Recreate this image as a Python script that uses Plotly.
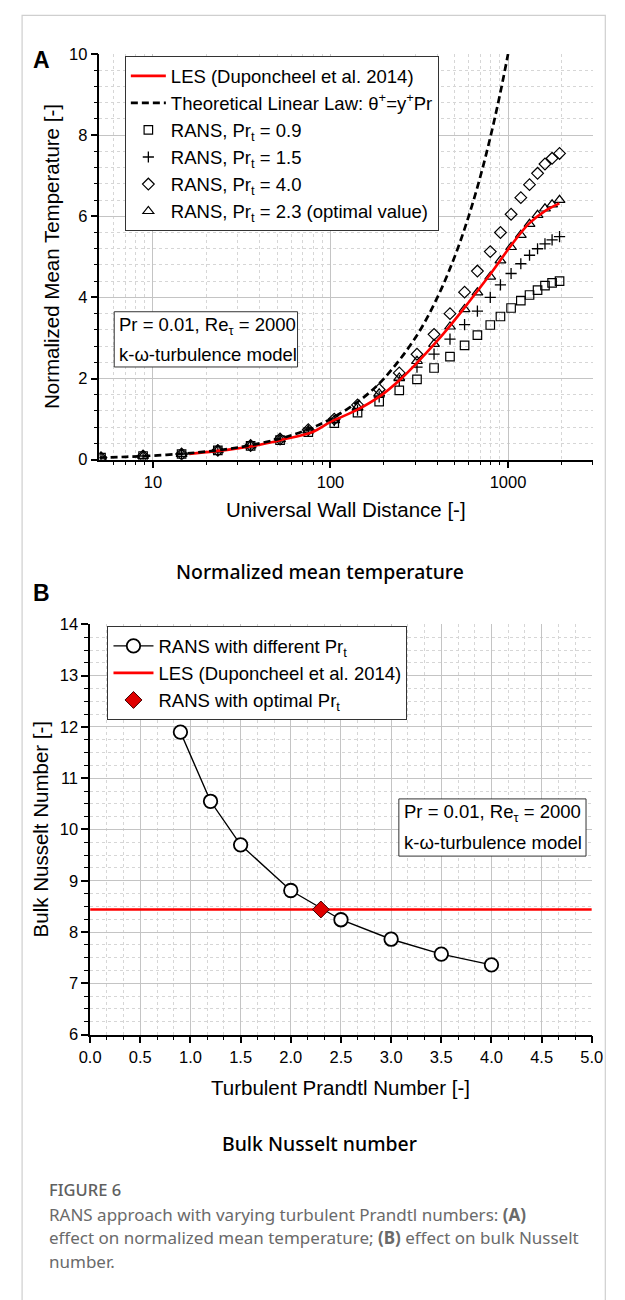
import math
import plotly.graph_objects as go

W, H = 625, 1300

# ---------------- Panel A data ----------------
yplus_rans = [5.1, 8.8, 14.5, 23.2, 35.5, 52, 75, 105, 142, 188, 244, 307, 383,
              471, 569, 672, 794, 906, 1040, 1180, 1321, 1466, 1614, 1770, 1950]
theta_prt09 = [0.05, 0.09, 0.14, 0.23, 0.34, 0.48, 0.68, 0.90, 1.16, 1.43, 1.71, 1.98, 2.26,
               2.54, 2.82, 3.07, 3.32, 3.53, 3.74, 3.92, 4.06, 4.18, 4.29, 4.36, 4.40]
theta_prt15 = [0.05, 0.09, 0.14, 0.23, 0.35, 0.50, 0.71, 0.96, 1.22, 1.55, 1.95, 2.28, 2.60,
               2.97, 3.33, 3.66, 4.00, 4.31, 4.59, 4.83, 5.04, 5.20, 5.32, 5.42, 5.50]
theta_prt40 = [0.05, 0.09, 0.14, 0.23, 0.35, 0.51, 0.74, 1.00, 1.35, 1.73, 2.14, 2.60, 3.09,
               3.60, 4.13, 4.65, 5.13, 5.60, 6.05, 6.46, 6.78, 7.06, 7.29, 7.43, 7.55]
theta_prt23 = [0.05, 0.09, 0.14, 0.23, 0.35, 0.50, 0.72, 0.97, 1.29, 1.63, 2.02, 2.43, 2.85,
               3.28, 3.71, 4.12, 4.51, 4.91, 5.24, 5.54, 5.81, 6.03, 6.19, 6.29, 6.40]
yplus_les = [16, 28, 38, 52, 80, 100, 140, 192, 249, 309, 383, 461, 593, 778, 1040, 1310, 1611, 1946]
theta_les = [0.14, 0.26, 0.35, 0.48, 0.69, 0.93, 1.22, 1.58, 1.99, 2.40, 2.84, 3.25, 3.85, 4.52,
             5.28, 5.82, 6.13, 6.32]
yplus_lin = [5, 7, 10, 15, 20, 30, 50, 70, 100, 150, 200, 300, 400, 500, 600, 700, 800, 900, 1000]
theta_lin = [0.05, 0.07, 0.1, 0.15, 0.2, 0.3, 0.5, 0.7, 1.0, 1.5, 2.0, 3.0, 4.0, 5.0, 6.0, 7.0,
             8.0, 9.0, 10.0]
xA_range = [5, 3000]
xA_ticks = [10, 100, 1000]
xA_labels = ["10", "100", "1000"]

# ---------------- Panel B data ----------------
prt = [0.9, 1.2, 1.5, 2.0, 2.5, 3.0, 3.5, 4.0]
nu_rans = [11.9, 10.55, 9.7, 8.81, 8.24, 7.86, 7.57, 7.36]
prt_opt = [2.3]
nu_opt = [8.44]
nu_les = 8.44
xB_range = [0, 5]
yB_range = [6, 14]

FONT = "Liberation Sans, Arial, sans-serif"
CAP = "Noto Sans, Open Sans, sans-serif"


def px(x):
    return x / W


def py(y):
    return 1 - y / H


fig = go.Figure()

# ---- Panel A traces ----
fig.add_trace(go.Scatter(x=yplus_rans, y=theta_prt09, mode="markers", name="RANS, Pr<sub>t</sub> = 0.9",
                         marker=dict(symbol="square-open", size=8.5, color="black", line=dict(width=1.2)),
                         xaxis="x", yaxis="y", legendrank=3, legendgroup="a3"))
fig.add_trace(go.Scatter(x=yplus_rans, y=theta_prt15, mode="markers", name="RANS, Pr<sub>t</sub> = 1.5",
                         marker=dict(symbol="cross-thin-open", size=8, color="black", line=dict(width=1.3, color="black")),
                         xaxis="x", yaxis="y", legendrank=4, legendgroup="a4"))
fig.add_trace(go.Scatter(x=yplus_rans, y=theta_prt40, mode="markers", name="RANS, Pr<sub>t</sub> = 4.0",
                         marker=dict(symbol="diamond-open", size=9, color="black", line=dict(width=1.2)),
                         xaxis="x", yaxis="y", legendrank=5, legendgroup="a5"))
fig.add_trace(go.Scatter(x=yplus_rans, y=theta_prt23, mode="markers",
                         name="RANS, Pr<sub>t</sub> = 2.3 (optimal value)",
                         marker=dict(symbol="triangle-up-open", size=9.5, color="black", line=dict(width=1.2)),
                         xaxis="x", yaxis="y", legendrank=6, legendgroup="a6"))
fig.add_trace(go.Scatter(x=yplus_les, y=theta_les, mode="lines", name="LES (Duponcheel et al. 2014)",
                         line=dict(color="#ff0000", width=2.6, shape="spline"),
                         xaxis="x", yaxis="y", legendrank=1, legendgroup="a1"))
fig.add_trace(go.Scatter(x=yplus_lin, y=theta_lin, mode="lines",
                         name="Theoretical Linear Law: θ<sup>+</sup>=y<sup>+</sup>Pr",
                         line=dict(color="black", width=2.7, dash="7px,4px", shape="spline"),
                         xaxis="x", yaxis="y", legendrank=2, legendgroup="a2"))

# ---- Panel B traces ----
fig.add_trace(go.Scatter(x=xB_range, y=[nu_les, nu_les], mode="lines", name="LES (Duponcheel et al. 2014)",
                         line=dict(color="#ff0000", width=2.6),
                         xaxis="x2", yaxis="y2", legend="legend2", legendrank=2, legendgroup="b2"))
fig.add_trace(go.Scatter(x=prt, y=nu_rans, mode="lines+markers", name="RANS with different Pr<sub>t</sub>",
                         line=dict(color="black", width=1.4),
                         marker=dict(symbol="circle", size=13.5, color="white", line=dict(color="black", width=1.8)),
                         xaxis="x2", yaxis="y2", legend="legend2", legendrank=1, legendgroup="b1"))
fig.add_trace(go.Scatter(x=prt_opt, y=nu_opt, mode="markers", name="RANS with optimal Pr<sub>t</sub>",
                         marker=dict(symbol="diamond", size=13, color="#e00000", line=dict(color="#400000", width=1)),
                         xaxis="x2", yaxis="y2", legend="legend2", legendrank=3, legendgroup="b3"))

axis_common = dict(showline=True, linecolor="black", linewidth=1.5, ticks="outside", ticklen=7,
                   tickwidth=1.5, tickcolor="black", tickfont=dict(family=FONT, size=16.5, color="black"),
                   showgrid=True, gridcolor="#c4c4c4", gridwidth=1, zeroline=False, mirror=False)

minor_log = [6, 7, 8, 9, 20, 30, 40, 50, 60, 70, 80, 90, 200, 300, 400, 500, 600, 700, 800, 900, 2000, 3000]
minor_style = dict(ticks="outside", ticklen=4, tickwidth=1.2, tickcolor="black",
                   showgrid=True, gridcolor="#d6d6d6", griddash="dot", gridwidth=1)

fig.update_layout(
    width=W, height=H, autosize=False,
    margin=dict(l=0, r=0, t=0, b=0),
    paper_bgcolor="white", plot_bgcolor="white",
    xaxis=dict(axis_common, type="log", range=[math.log10(xA_range[0]), math.log10(xA_range[1])],
               domain=[px(91.7), px(603)], anchor="y", tickmode="array", tickvals=xA_ticks, ticktext=xA_labels,
               minor=dict(minor_style, tickmode="array", tickvals=minor_log)),
    yaxis=dict(axis_common, range=[0, 10], domain=[py(457), py(45.7)], anchor="x", dtick=2, tick0=0,
               minor=dict(minor_style, dtick=0.4, tick0=0)),
    xaxis2=dict(axis_common, range=xB_range, domain=[px(82), px(602)], anchor="y2", dtick=0.5, tick0=0,
                tickformat=".1f", minor=dict(minor_style, dtick=0.5 / 3, tick0=0)),
    yaxis2=dict(axis_common, range=yB_range, domain=[py(1040), py(624)], anchor="x2", dtick=1, tick0=0,
                minor=dict(minor_style, dtick=0.25, tick0=0)),
    showlegend=True,
    legend=dict(x=px(118), y=py(48), xanchor="left", yanchor="top", bgcolor="white",
                bordercolor="#333333", borderwidth=1, font=dict(family=FONT, size=18.5, color="black"),
                tracegroupgap=0, traceorder="grouped", itemwidth=35),
    legend2=dict(x=px(100), y=py(626), xanchor="left", yanchor="top", bgcolor="white",
                 bordercolor="#333333", borderwidth=1, font=dict(family=FONT, size=18.5, color="black"),
                 tracegroupgap=0, traceorder="grouped", itemwidth=40),
)

shapes = [
    # outer figure frame
    dict(type="rect", xref="paper", yref="paper", x0=px(11.5), x1=px(616), y0=py(1320), y1=py(6.5),
         line=dict(color="#cfcfcf", width=1.2), fillcolor="rgba(0,0,0,0)", layer="below"),
    # panel A info box
    dict(type="rect", xref="paper", yref="paper", x0=px(107), x1=px(297), y0=py(363), y1=py(307),
         line=dict(color="#333333", width=1), fillcolor="white", layer="above"),
    # panel B info box
    dict(type="rect", xref="paper", yref="paper", x0=px(402), x1=px(596), y0=py(859), y1=py(801),
         line=dict(color="#333333", width=1), fillcolor="white", layer="above"),
]

ann = []


def text(x, y, s, size, family=FONT, color="black", xanchor="center", angle=0, weight=None):
    f = dict(family=family, size=size, color=color)
    if weight is not None:
        f["weight"] = weight
    ann.append(dict(xref="paper", yref="paper", x=px(x), y=py(y), text=s, showarrow=False,
                    xanchor=xanchor, yanchor="middle", font=f, textangle=angle))


text(32, 52, "<b>A</b>", 23)
text(32, 592, "<b>B</b>", 23)
text(347, 508, "Universal Wall Distance [-]", 20.5)
text(42, 251, "Normalized Mean Temperature [-]", 20.5, angle=-90)
text(342, 1094, "Turbulent Prandtl Number [-]", 20.5)
text(31, 832, "Bulk Nusselt Number [-]", 20.5, angle=-90)
text(110, 321, "Pr = 0.01, Re<sub>τ</sub> = 2000", 18.5, xanchor="left")
text(110, 350, "k-ω-turbulence model", 18.5, xanchor="left")
text(405, 815, "Pr = 0.01, Re<sub>τ</sub> = 2000", 18.5, xanchor="left")
text(405, 845, "k-ω-turbulence model", 18.5, xanchor="left")
text(320, 570, "Normalized mean temperature", 19.4, family=CAP, weight=500)
text(320, 1150, "Bulk Nusselt number", 19.4, family=CAP, weight=500)
text(37, 1197, "FIGURE 6", 16.5, family=CAP, color="#606060", xanchor="left", weight=500)
text(37, 1222, "RANS approach with varying turbulent Prandtl numbers: <b>(A)</b>", 17, family=CAP,
     color="#6a6a6a", xanchor="left")
text(37, 1246, "effect on normalized mean temperature; <b>(B)</b> effect on bulk Nusselt", 17, family=CAP,
     color="#6a6a6a", xanchor="left")
text(37, 1270, "number.", 17, family=CAP, color="#6a6a6a", xanchor="left")

fig.update_layout(shapes=shapes, annotations=ann)

fig.write_html("out.html", config={"displayModeBar": False},
               post_script="document.body.style.margin='0';")
